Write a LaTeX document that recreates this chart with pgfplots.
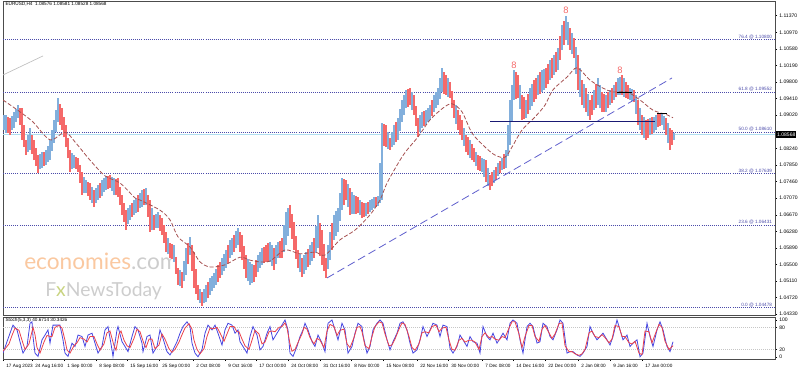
\documentclass[border=0pt]{standalone}
\usepackage{fontspec}
\setmainfont{Liberation Sans}
\newfontfamily\wmfont{Lato}
\usepackage{pgfplots}
\usepackage{pgfplotstable}
\pgfplotsset{compat=1.18}
\definecolor{upc}{RGB}{130,175,220}
\definecolor{dnc}{RGB}{245,105,105}
\definecolor{fibc}{RGB}{75,75,170}
\definecolor{mac}{RGB}{165,80,80}
\definecolor{trendc}{RGB}{95,95,205}
\definecolor{hlinec}{RGB}{25,25,115}
\definecolor{stb}{RGB}{70,70,225}
\definecolor{str}{RGB}{235,65,75}
\definecolor{cur}{RGB}{175,222,240}
\definecolor{wmo}{RGB}{250,200,160}
\definecolor{wmg}{RGB}{205,205,205}
\newcommand\tk{\fontsize{3.8}{4.4}\selectfont}
\newcommand\ts{\fontsize{3.5}{4.1}\selectfont}

\pgfplotstableread{
x lo hi
6 1.0860 1.0903
14 1.0872 1.0910
18 1.0896 1.0926
30 1.0820 1.0872
42 1.0778 1.0815
46 1.0785 1.0820
50 1.0796 1.0844
54 1.0837 1.0891
58 1.0886 1.0943
74 1.0778 1.0808
86 1.0719 1.0749
98 1.0702 1.0737
102 1.0711 1.0749
106 1.0726 1.0759
114 1.0714 1.0754
130 1.0655 1.0690
134 1.0667 1.0702
142 1.0686 1.0726
146 1.0690 1.0730
158 1.0636 1.0674
174 1.0556 1.0596
186 1.0525 1.0589
190 1.0572 1.0615
206 1.0461 1.0501
210 1.0478 1.0518
214 1.0494 1.0530
222 1.0525 1.0565
226 1.0542 1.0584
230 1.0565 1.0608
238 1.0596 1.0636
250 1.0501 1.0556
258 1.0532 1.0572
262 1.0549 1.0589
270 1.0556 1.0603
278 1.0565 1.0603
286 1.0596 1.0674
306 1.0537 1.0579
310 1.0549 1.0596
318 1.0589 1.0667
330 1.0560 1.0627
334 1.0608 1.0667
338 1.0627 1.0683
342 1.0678 1.0754
354 1.0669 1.0714
366 1.0664 1.0695
370 1.0674 1.0702
374 1.0683 1.0709
378 1.0688 1.0711
382 1.0702 1.0884
394 1.0832 1.0879
398 1.0844 1.0896
402 1.0886 1.0938
406 1.0919 1.0962
422 1.0872 1.0910
426 1.0879 1.0914
430 1.0891 1.0926
434 1.0910 1.0950
438 1.0926 1.0966
442 1.0957 1.1014
470 1.0801 1.0844
482 1.0768 1.0801
494 1.0742 1.0773
498 1.0759 1.0789
502 1.0773 1.0801
506 1.0778 1.0820
510 1.0832 1.0938
514 1.0938 1.1009
526 1.0896 1.0938
530 1.0914 1.0966
538 1.0950 1.0997
542 1.0957 1.1009
550 1.0985 1.1032
554 1.0997 1.1044
558 1.1009 1.1061
562 1.1056 1.1115
566 1.1080 1.1136
594 1.0914 1.0962
598 1.0926 1.0990
606 1.0910 1.0950
610 1.0926 1.0962
614 1.0938 1.0973
618 1.0950 1.0990
630 1.0938 1.0966
650 1.0855 1.0896
654 1.0860 1.0898
662 1.0879 1.0907
674 1.0844 1.0860
}\upT

\pgfplotstableread{
x lo hi
2 1.0867 1.0910
10 1.0855 1.0896
22 1.0844 1.0919
26 1.0808 1.0844
34 1.0796 1.0844
38 1.0766 1.0808
62 1.0867 1.0919
66 1.0827 1.0879
70 1.0768 1.0820
78 1.0768 1.0801
82 1.0714 1.0768
90 1.0702 1.0742
94 1.0686 1.0726
110 1.0730 1.0761
118 1.0709 1.0754
122 1.0667 1.0714
126 1.0631 1.0678
138 1.0674 1.0714
150 1.0627 1.0702
154 1.0631 1.0667
162 1.0619 1.0660
166 1.0579 1.0627
170 1.0565 1.0601
178 1.0501 1.0542
182 1.0494 1.0532
194 1.0494 1.0579
198 1.0466 1.0501
202 1.0452 1.0485
218 1.0509 1.0549
234 1.0579 1.0619
242 1.0560 1.0619
246 1.0518 1.0572
254 1.0509 1.0549
266 1.0556 1.0596
274 1.0537 1.0589
282 1.0565 1.0612
290 1.0636 1.0690
294 1.0584 1.0650
298 1.0542 1.0584
302 1.0520 1.0565
314 1.0565 1.0612
322 1.0549 1.0631
326 1.0518 1.0565
346 1.0702 1.0749
350 1.0667 1.0730
358 1.0671 1.0709
362 1.0660 1.0697
386 1.0827 1.0879
390 1.0820 1.0848
410 1.0926 1.0966
414 1.0903 1.0950
418 1.0851 1.0896
446 1.0950 1.0997
450 1.0943 1.0981
454 1.0896 1.0938
458 1.0867 1.0914
462 1.0844 1.0891
466 1.0815 1.0855
474 1.0792 1.0825
478 1.0773 1.0808
486 1.0744 1.0796
490 1.0726 1.0761
518 1.0943 1.0997
522 1.0891 1.0950
534 1.0933 1.0985
546 1.0966 1.1014
570 1.1056 1.1108
574 1.1037 1.1084
578 1.0962 1.1044
582 1.0926 1.0985
586 1.0910 1.0966
590 1.0891 1.0938
602 1.0910 1.0957
622 1.0950 1.0997
626 1.0943 1.0981
634 1.0933 1.0962
638 1.0879 1.0938
642 1.0855 1.0903
646 1.0844 1.0891
658 1.0874 1.0907
666 1.0855 1.0896
670 1.0820 1.0872
}\dnT

\pgfplotstableread{
x lo hi
4 1.0866 1.0902
12 1.0866 1.0900
16 1.0886 1.0916
28 1.0816 1.0856
40 1.0774 1.0810
48 1.0792 1.0830
52 1.0818 1.0866
56 1.0863 1.0915
72 1.0775 1.0812
84 1.0718 1.0757
92 1.0696 1.0732
96 1.0696 1.0730
104 1.0720 1.0753
112 1.0724 1.0756
128 1.0645 1.0682
136 1.0672 1.0706
140 1.0682 1.0718
152 1.0632 1.0682
156 1.0636 1.0668
168 1.0574 1.0612
180 1.0498 1.0536
184 1.0510 1.0558
200 1.0460 1.0492
204 1.0458 1.0492
212 1.0487 1.0523
216 1.0502 1.0539
224 1.0534 1.0574
232 1.0572 1.0612
236 1.0588 1.0628
248 1.0510 1.0562
252 1.0506 1.0552
260 1.0541 1.0580
272 1.0547 1.0596
276 1.0551 1.0596
284 1.0580 1.0643
288 1.0616 1.0682
300 1.0531 1.0574
304 1.0528 1.0572
312 1.0557 1.0604
316 1.0577 1.0640
328 1.0539 1.0596
336 1.0618 1.0675
340 1.0652 1.0718
348 1.0685 1.0739
352 1.0668 1.0722
360 1.0666 1.0703
372 1.0679 1.0705
380 1.0695 1.0790
388 1.0823 1.0863
392 1.0826 1.0863
400 1.0865 1.0917
404 1.0902 1.0950
412 1.0914 1.0958
420 1.0862 1.0903
428 1.0885 1.0920
436 1.0918 1.0958
440 1.0940 1.0990
448 1.0946 1.0989
456 1.0882 1.0926
464 1.0830 1.0873
476 1.0782 1.0816
484 1.0756 1.0798
488 1.0735 1.0778
508 1.0805 1.0880
512 1.0885 1.0973
520 1.0917 1.0973
532 1.0923 1.0975
544 1.0961 1.1011
568 1.1068 1.1122
572 1.1046 1.1096
576 1.1000 1.1064
580 1.0944 1.1014
584 1.0918 1.0975
588 1.0900 1.0952
600 1.0918 1.0973
620 1.0950 1.0993
624 1.0946 1.0989
632 1.0935 1.0964
636 1.0906 1.0950
640 1.0867 1.0920
644 1.0849 1.0897
656 1.0867 1.0902
664 1.0867 1.0901
668 1.0837 1.0884
}\upB

\pgfplotstableread{
x lo hi
8 1.0860 1.0897
20 1.0880 1.0920
24 1.0828 1.0878
32 1.0810 1.0856
36 1.0783 1.0824
44 1.0783 1.0816
60 1.0880 1.0928
64 1.0850 1.0897
68 1.0800 1.0848
76 1.0775 1.0803
80 1.0742 1.0784
88 1.0712 1.0744
100 1.0707 1.0742
108 1.0729 1.0759
116 1.0713 1.0752
120 1.0690 1.0732
124 1.0650 1.0694
132 1.0662 1.0695
144 1.0690 1.0727
148 1.0662 1.0714
160 1.0630 1.0666
164 1.0600 1.0642
172 1.0562 1.0597
176 1.0528 1.0568
188 1.0550 1.0600
192 1.0535 1.0596
196 1.0480 1.0538
208 1.0470 1.0509
220 1.0518 1.0556
228 1.0554 1.0596
240 1.0580 1.0626
244 1.0540 1.0594
256 1.0521 1.0560
264 1.0553 1.0592
268 1.0556 1.0600
280 1.0566 1.0606
292 1.0610 1.0670
296 1.0563 1.0616
308 1.0543 1.0587
320 1.0570 1.0648
324 1.0534 1.0598
332 1.0584 1.0647
344 1.0690 1.0751
356 1.0670 1.0711
364 1.0662 1.0696
368 1.0669 1.0698
376 1.0686 1.0710
384 1.0830 1.0881
396 1.0838 1.0887
408 1.0922 1.0964
416 1.0877 1.0923
424 1.0876 1.0912
432 1.0900 1.0938
444 1.0953 1.1005
452 1.0920 1.0960
460 1.0855 1.0902
468 1.0808 1.0850
472 1.0796 1.0835
480 1.0770 1.0805
492 1.0734 1.0767
496 1.0750 1.0781
500 1.0766 1.0795
504 1.0775 1.0810
516 1.0940 1.1003
524 1.0893 1.0944
528 1.0905 1.0952
536 1.0941 1.0991
540 1.0953 1.1003
548 1.0975 1.1023
552 1.0991 1.1038
556 1.1003 1.1052
560 1.1032 1.1088
564 1.1068 1.1125
592 1.0902 1.0950
596 1.0920 1.0976
604 1.0910 1.0953
608 1.0918 1.0956
612 1.0932 1.0967
616 1.0944 1.0981
628 1.0940 1.0973
648 1.0849 1.0893
652 1.0857 1.0897
660 1.0876 1.0907
672 1.0832 1.0866
}\dnB

\pgfplotstableread{
x v
3 10
7 41
10 64
13 86
17 73
20 41
23 10
27 28
30 91
32 95
33 55
35 10
38 1
42 46
45 59
48 73
50 37
53 86
57 86
60 86
63 46
65 10
68 1
72 37
75 28
78 59
82 55
85 28
88 59
92 64
95 37
98 10
102 28
105 73
108 82
112 19
113 1
117 73
118 82
122 41
125 28
128 14
132 55
135 82
138 73
142 37
143 14
147 55
150 59
153 10
157 28
160 73
163 50
167 14
170 5
173 19
177 41
180 64
183 82
187 95
190 82
192 37
195 10
198 0
202 19
205 64
208 86
212 73
215 86
218 64
222 32
225 73
228 91
232 86
235 64
238 73
240 41
243 28
247 10
250 55
253 82
257 59
260 19
263 28
267 64
270 82
273 46
277 64
280 77
283 91
285 100
288 73
290 10
293 1
297 28
300 55
303 73
305 91
308 73
312 41
315 28
318 59
322 37
325 14
328 91
332 100
335 73
338 46
342 91
345 73
348 10
352 28
355 64
358 91
362 82
363 59
367 10
370 28
373 73
377 91
380 100
383 91
387 46
390 19
393 41
397 64
400 91
403 95
407 73
410 37
413 10
417 19
420 46
423 82
427 55
430 73
433 91
437 86
440 55
443 86
447 82
450 23
453 10
457 28
460 59
463 46
467 28
470 55
473 41
477 37
480 10
483 82
487 55
490 46
493 64
497 37
500 50
503 64
507 46
510 91
513 100
517 91
520 46
523 10
527 82
530 91
533 82
537 37
540 41
543 91
547 82
550 55
553 46
557 73
560 100
563 91
567 10
570 14
573 14
577 5
580 1
583 10
587 28
590 82
593 64
597 46
600 55
603 64
607 46
610 32
613 55
617 100
620 73
623 46
627 59
630 28
633 37
637 46
640 0
643 10
647 91
650 55
653 28
657 73
660 95
663 73
667 28
670 14
673 41
}\stBlue

\pgfplotstableread{
x v
3 15
9 35
12 58
15 78
19 72
22 45
25 20
29 35
33 80
35 60
37 25
40 10
44 40
47 58
50 55
52 55
55 80
59 85
62 78
65 45
67 18
70 10
74 30
77 38
80 52
84 48
87 40
90 55
94 55
97 35
100 18
104 35
107 65
110 70
114 30
116 18
119 62
121 70
124 45
127 30
130 25
134 50
137 75
140 68
144 35
146 25
149 48
152 48
155 22
159 32
162 62
165 48
169 22
172 12
175 20
179 40
182 60
185 78
189 90
192 75
194 45
197 20
200 8
204 22
207 55
210 78
214 76
217 80
220 65
224 42
227 62
230 82
234 82
237 68
239 68
242 48
245 30
249 20
252 45
255 72
259 62
262 35
265 40
269 68
272 70
275 68
279 80
282 82
285 92
287 78
290 35
292 15
295 20
299 45
302 62
304 80
307 75
310 52
314 35
317 50
320 45
324 25
327 70
330 88
334 82
337 58
340 72
344 75
347 35
350 25
354 52
357 80
360 82
362 68
365 30
369 22
372 55
375 82
379 95
382 92
385 62
389 30
392 32
395 48
399 75
402 92
405 88
409 55
412 25
415 18
419 35
422 65
425 68
429 65
432 82
436 86
439 68
442 78
446 80
449 45
452 20
455 18
459 45
462 50
465 40
469 45
472 45
475 40
479 20
482 55
485 65
489 52
492 55
495 48
499 45
502 55
505 52
509 78
512 95
515 95
519 62
522 25
525 55
529 85
532 85
535 55
539 42
542 75
545 85
549 65
552 50
555 62
559 90
562 92
565 30
569 14
572 14
575 8
579 4
582 8
585 20
589 65
592 70
595 55
599 52
602 60
605 52
609 38
612 48
615 85
619 82
622 55
625 55
629 38
632 35
635 42
639 10
642 6
645 70
649 68
652 38
655 60
659 88
662 80
665 42
669 20
673 30
}\stRed

\begin{document}
\begin{tikzpicture}
\useasboundingbox (0pt,0pt) rectangle (598.5pt,278.25pt);
% ---------------- main price panel
\begin{axis}[
  at={(2.25pt,42pt)}, anchor=south west,
  scale only axis, width=579pt, height=235.5pt,
  xmin=3, xmax=775, ymin=1.04306, ymax=1.11716,
  clip mode=individual,
  axis line style={draw=gray!60!black, line width=0.5pt},
  xtick=\empty,
  ytick={1.04330,1.04720,1.05110,1.05500,1.05890,1.06280,1.06670,1.07070,1.07460,1.07850,1.08240,1.08630,1.09020,1.09410,1.09800,1.10190,1.10580,1.10970,1.11370},
  yticklabels={1.04330,1.04720,1.05110,1.05500,1.05890,1.06280,1.06670,1.07070,1.07460,1.07850,1.08240,{},1.09020,1.09410,1.09800,1.10190,1.10580,1.10970,1.11370},
  ytick pos=right, yticklabel pos=right,
  tick align=outside, major tick length=1.5pt,
  tick style={black, line width=0.4pt},
  yticklabel style={font=\tk, xshift=-1.8pt},
]
% watermark
\node[anchor=west, inner sep=0pt, font=\wmfont\fontsize{17}{17}\selectfont] at (axis cs:24,1.0557) {\textcolor{wmo}{economies}\textcolor{wmg}{.com}};
\node[anchor=west, inner sep=0pt, font=\wmfont\fontsize{14.5}{15}\selectfont, text=wmg] at (axis cs:45,1.0486) {F\textcolor{wmo!80!green}{x}NewsToday};
% fib levels
\addplot[fibc, densely dotted, line width=0.55pt] coordinates {(3,1.10800)(775,1.10800)};
\addplot[fibc, densely dotted, line width=0.55pt] coordinates {(3,1.09552)(775,1.09552)};
\addplot[fibc, densely dotted, line width=0.55pt] coordinates {(3,1.08610)(775,1.08610)};
\addplot[fibc, densely dotted, line width=0.55pt] coordinates {(3,1.07639)(775,1.07639)};
\addplot[fibc, densely dotted, line width=0.55pt] coordinates {(3,1.06431)(775,1.06431)};
\addplot[fibc, densely dotted, line width=0.55pt] coordinates {(3,1.04478)(775,1.04478)};
\addplot[cur, line width=0.5pt] coordinates {(3,1.08568)(775,1.08568)};
% candles
\addplot[draw=none, forget plot, error bars/.cd, y dir=plus, y explicit, error mark=none,
  error bar style={draw=upc, line width=0.9pt}]
  table[x=x, y=lo, y error expr=\thisrow{hi}-\thisrow{lo}] {\upT};
\addplot[draw=none, forget plot, error bars/.cd, y dir=plus, y explicit, error mark=none,
  error bar style={draw=dnc, line width=0.9pt}]
  table[x=x, y=lo, y error expr=\thisrow{hi}-\thisrow{lo}] {\dnT};
\addplot[draw=none, forget plot, error bars/.cd, y dir=plus, y explicit, error mark=none,
  error bar style={draw=upc, line width=0.9pt}]
  table[x=x, y=lo, y error expr=\thisrow{hi}-\thisrow{lo}] {\upB};
\addplot[draw=none, forget plot, error bars/.cd, y dir=plus, y explicit, error mark=none,
  error bar style={draw=dnc, line width=0.9pt}]
  table[x=x, y=lo, y error expr=\thisrow{hi}-\thisrow{lo}] {\dnB};
% moving average
\addplot[mac, line width=0.6pt, dash pattern=on 3pt off 1.5pt, smooth] coordinates {
(3,1.0938)(20,1.0910)(33,1.0886)(50,1.0844)(65,1.0862)(75,1.0839)(90,1.0796)(105,1.0759)(120,1.0742)(135,1.0707)(140,1.0702)(160,1.0678)(170,1.0655)(178,1.0615)(190,1.0591)(200,1.0556)(210,1.0544)(225,1.0549)(240,1.0567)(250,1.0560)(260,1.0556)(270,1.0558)(285,1.0584)(300,1.0575)(315,1.0579)(325,1.0572)(340,1.0608)(355,1.0631)(370,1.0667)(380,1.0702)(387,1.0742)(400,1.0796)(407,1.0820)(418,1.0851)(430,1.0891)(443,1.0919)(452,1.0929)(462,1.0910)(472,1.0860)(485,1.0827)(495,1.0808)(505,1.0803)(512,1.0827)(522,1.0867)(535,1.0898)(545,1.0926)(553,1.0962)(567,1.0992)(577,1.1014)(590,1.0985)(603,1.0966)(613,1.0957)(627,1.0957)(640,1.0938)(653,1.0914)(667,1.0903)(673,1.0896)};
% trend line and horizontal line
\addplot[trendc, line width=0.6pt, dash pattern=on 6pt off 3pt] coordinates {(327,1.0518)(672,1.0990)};
\addplot[hlinec, line width=0.9pt] coordinates {(490,1.0888)(655,1.0888)};
\addplot[black, line width=0.6pt] coordinates {(617,1.0957)(632,1.0957)};
\addplot[black, line width=0.6pt] coordinates {(657,1.0907)(667,1.0907)};
\addplot[gray!50, line width=0.5pt] coordinates {(3,1.0997)(43,1.1042)};
% fractal markers
\node[text=dnc, font=\fontsize{7}{7}\selectfont] at (axis cs:514,1.1021) {8};
\node[text=dnc, font=\fontsize{7}{7}\selectfont] at (axis cs:566,1.1150) {8};
\node[text=dnc, font=\fontsize{7}{7}\selectfont] at (axis cs:620,1.1009) {8};
% fib labels
\node[anchor=south east, text=fibc, font=\ts, inner sep=0.6pt] at (axis cs:773,1.10800) {76.4 @ 1.10800};
\node[anchor=south east, text=fibc, font=\ts, inner sep=0.6pt] at (axis cs:773,1.09552) {61.8 @ 1.09552};
\node[anchor=south east, text=fibc, font=\ts, inner sep=0.6pt] at (axis cs:773,1.08610) {50.0 @ 1.08610};
\node[anchor=south east, text=fibc, font=\ts, inner sep=0.6pt] at (axis cs:773,1.07639) {38.2 @ 1.07639};
\node[anchor=south east, text=fibc, font=\ts, inner sep=0.6pt] at (axis cs:773,1.06431) {23.6 @ 1.06431};
\node[anchor=south east, text=fibc, font=\ts, inner sep=0.6pt] at (axis cs:773,1.04478) {0.0 @ 1.04478};
% header and price box
\node[anchor=north west, font=\ts, inner sep=1pt] at (axis cs:4,1.11716) {EURUSD,H4\ \ 1.08576 1.08581 1.08528 1.08568};
\node[anchor=west, fill=black, text=white, font=\tk, inner xsep=0.6pt, inner ysep=1.1pt] at (axis cs:776,1.08568) {1.08568};
\end{axis}
% ---------------- stochastic panel
\begin{axis}[
  at={(2.25pt,9pt)}, anchor=south west,
  scale only axis, width=579pt, height=31.5pt,
  xmin=3, xmax=775, ymin=-6, ymax=108,
  clip mode=individual,
  axis line style={draw=gray!60!black, line width=0.5pt},
  ytick={0,20,80,100}, yticklabels={0,20,80,100},
  ytick pos=right, yticklabel pos=right,
  xtick={3,32,64,96,127,159,193,225,256,288,320,351,383,417,448,482,513,545,578,610,642},
  xticklabels={17 Aug 2023,24 Aug 16:00,1 Sep 00:00,8 Sep 08:00,15 Sep 16:00,25 Sep 00:00,2 Oct 08:00,9 Oct 16:00,17 Oct 00:00,24 Oct 08:00,31 Oct 16:00,8 Nov 00:00,15 Nov 08:00,22 Nov 16:00,30 Nov 00:00,7 Dec 08:00,14 Dec 16:00,22 Dec 00:00,2 Jan 08:00,9 Jan 16:00,17 Jan 00:00},
  xtick pos=bottom,
  tick align=outside, major tick length=1.5pt,
  tick style={black, line width=0.4pt},
  yticklabel style={font=\tk, xshift=-1.8pt},
  xticklabel style={font=\ts, anchor=north west, xshift=-1pt, yshift=1pt},
]
\addplot[gray!45, densely dotted, line width=0.5pt] coordinates {(3,80)(775,80)};
\addplot[gray!45, densely dotted, line width=0.5pt] coordinates {(3,20)(775,20)};
\addplot[stb, line width=0.6pt] table[x=x, y=v] {\stBlue};
\addplot[str, line width=0.6pt] table[x=x, y=v] {\stRed};
\node[anchor=north west, font=\ts, inner sep=1pt] at (axis cs:4,108) {Stoch(5,3,3) 40.6714 30.3426};
\end{axis}
\end{tikzpicture}
\end{document}
